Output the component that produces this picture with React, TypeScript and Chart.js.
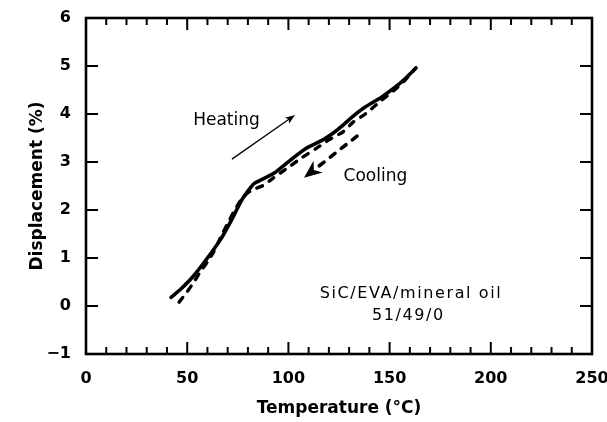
import React, { useEffect, useRef } from "react";
import { Chart, registerables } from "chart.js";

Chart.register(...registerables);

// ---- data ----
const heatingTemp = [42, 47, 53, 60, 67, 72, 77, 81, 83, 88, 93, 101, 109, 117, 122, 126, 131, 137, 142, 146, 154, 158, 163];
const heatingDisp = [0.18, 0.36, 0.62, 1.0, 1.42, 1.8, 2.21, 2.45, 2.55, 2.66, 2.77, 3.04, 3.29, 3.46, 3.6, 3.73, 3.92, 4.12, 4.25, 4.35, 4.6, 4.75, 4.96];

const coolingTemp = [46, 50, 53, 56, 60, 63, 67, 70, 73, 77, 80, 84, 88, 92, 97, 101, 107, 114, 120, 127, 132, 138, 145, 153, 158, 163];
const coolingDisp = [0.08, 0.3, 0.48, 0.68, 0.92, 1.12, 1.47, 1.72, 1.96, 2.24, 2.36, 2.45, 2.52, 2.65, 2.8, 2.92, 3.1, 3.29, 3.46, 3.63, 3.83, 4.0, 4.25, 4.52, 4.72, 4.96];

const xTickValues = [0, 50, 100, 150, 200, 250];
const yTickValues = [-1, 0, 1, 2, 3, 4, 5, 6];
const xMinorStep = 10;

const xTitle = "Temperature (\u00B0C)";
const yTitle = "Displacement (%)";

const heatingLabel = "Heating";
const coolingLabel = "Cooling";
const sampleLine1 = "SiC/EVA/mineral oil";
const sampleLine2 = "51/49/0";

// annotation anchors in data units [T, D]
const heatingLabelAt = [69.4, 3.86];
const coolingLabelAt = [143, 2.7];
const sample1At = [160.6, 0.25];
const sample2At = [159.3, -0.21];
const heatingArrowFrom = [72.1, 3.06];
const heatingArrowTo = [103.3, 3.98];
const coolingArrowFrom = [133.9, 3.54];
const coolingArrowTo = [107.7, 2.67];

const FONT = '"DejaVu Sans", sans-serif';

function toPoints(xs: number[], ys: number[]) {
  return xs.map((x, i) => ({ x, y: ys[i] }));
}

const decorPlugin = {
  id: "decor",
  afterDraw(chart: any) {
    const { ctx, chartArea: a, scales } = chart;
    const xs = scales.x;
    const ys = scales.y;
    const px = (v: number) => xs.getPixelForValue(v);
    const py = (v: number) => ys.getPixelForValue(v);
    ctx.save();
    ctx.strokeStyle = "#000";
    ctx.fillStyle = "#000";
    ctx.lineCap = "butt";

    const line = (x1: number, y1: number, x2: number, y2: number) => {
      ctx.beginPath();
      ctx.moveTo(x1, y1);
      ctx.lineTo(x2, y2);
      ctx.stroke();
    };

    // minor x ticks (top & bottom)
    ctx.lineWidth = 2;
    const xMin = xTickValues[0];
    const xMax = xTickValues[xTickValues.length - 1];
    for (let v = xMin; v <= xMax + 1e-9; v += xMinorStep) {
      const major = xTickValues.includes(v);
      const len = major ? 12 : 7;
      const p = px(v);
      line(p, a.bottom, p, a.bottom - len);
      line(p, a.top, p, a.top + len);
    }
    // y ticks (left & right)
    for (const v of yTickValues) {
      const p = py(v);
      line(a.left, p, a.left + 12, p);
      line(a.right, p, a.right - 12, p);
    }
    // frame
    ctx.lineWidth = 2.6;
    ctx.strokeRect(a.left, a.top, a.right - a.left, a.bottom - a.top);

    // heating arrow (thin solid)
    {
      const x1 = px(heatingArrowFrom[0]), y1 = py(heatingArrowFrom[1]);
      const x2 = px(heatingArrowTo[0]), y2 = py(heatingArrowTo[1]);
      const ang = Math.atan2(y2 - y1, x2 - x1);
      const hl = 10, hw = 3.6;
      ctx.lineWidth = 1.3;
      line(x1, y1, x2 - Math.cos(ang) * hl * 0.7, y2 - Math.sin(ang) * hl * 0.7);
      ctx.beginPath();
      ctx.moveTo(x2, y2);
      ctx.lineTo(x2 - Math.cos(ang) * hl - Math.sin(ang) * hw, y2 - Math.sin(ang) * hl + Math.cos(ang) * hw);
      ctx.lineTo(x2 - Math.cos(ang) * hl * 0.75, y2 - Math.sin(ang) * hl * 0.75);
      ctx.lineTo(x2 - Math.cos(ang) * hl + Math.sin(ang) * hw, y2 - Math.sin(ang) * hl - Math.cos(ang) * hw);
      ctx.closePath();
      ctx.fill();
    }
    // cooling arrow (thick dashed)
    {
      const x1 = px(coolingArrowFrom[0]), y1 = py(coolingArrowFrom[1]);
      const x2 = px(coolingArrowTo[0]), y2 = py(coolingArrowTo[1]);
      const ang = Math.atan2(y2 - y1, x2 - x1);
      const hl = 18, hw = 7.5;
      ctx.lineWidth = 3.6;
      ctx.lineCap = "round";
      ctx.setLineDash([6, 8]);
      line(x1, y1, x2 - Math.cos(ang) * hl * 0.8, y2 - Math.sin(ang) * hl * 0.8);
      ctx.setLineDash([]);
      ctx.lineCap = "butt";
      ctx.beginPath();
      ctx.moveTo(x2, y2);
      ctx.lineTo(x2 - Math.cos(ang) * hl - Math.sin(ang) * hw, y2 - Math.sin(ang) * hl + Math.cos(ang) * hw);
      ctx.lineTo(x2 - Math.cos(ang) * hl * 0.7, y2 - Math.sin(ang) * hl * 0.7);
      ctx.lineTo(x2 - Math.cos(ang) * hl + Math.sin(ang) * hw, y2 - Math.sin(ang) * hl - Math.cos(ang) * hw);
      ctx.closePath();
      ctx.fill();
    }

    // texts
    ctx.textAlign = "center";
    ctx.textBaseline = "middle";
    ctx.font = `17px ${FONT}`;
    ctx.fillText(heatingLabel, px(heatingLabelAt[0]), py(heatingLabelAt[1]));
    ctx.fillText(coolingLabel, px(coolingLabelAt[0]), py(coolingLabelAt[1]));
    ctx.font = `16px ${FONT}`;
    try { (ctx as any).letterSpacing = "1.6px"; } catch (e) {}
    ctx.fillText(sampleLine1, px(sample1At[0]), py(sample1At[1]));
    ctx.fillText(sampleLine2, px(sample2At[0]), py(sample2At[1]));
    try { (ctx as any).letterSpacing = "0px"; } catch (e) {}
    ctx.restore();
  },
};

export default function App() {
  const ref = useRef<HTMLCanvasElement | null>(null);

  useEffect(() => {
    if (!ref.current) return;
    const chart = new Chart(ref.current, {
      type: "scatter",
      data: {
        datasets: [
          {
            label: heatingLabel,
            data: toPoints(heatingTemp, heatingDisp),
            showLine: true,
            borderColor: "#000",
            backgroundColor: "#000",
            borderWidth: 3.6,
            pointRadius: 0,
            tension: 0.2,
            borderCapStyle: "round",
            borderJoinStyle: "round",
          },
          {
            label: coolingLabel,
            data: toPoints(coolingTemp, coolingDisp),
            showLine: true,
            borderColor: "#000",
            backgroundColor: "#000",
            borderWidth: 3.4,
            borderDash: [6, 8],
            borderCapStyle: "round",
            pointRadius: 0,
            tension: 0.2,
          },
        ],
      },
      options: {
        responsive: false,
        animation: false,
        devicePixelRatio: 1,
        layout: { padding: { top: 18, right: 15, left: 0, bottom: 0 } },
        plugins: {
          legend: { display: false },
          tooltip: { enabled: false },
        },
        scales: {
          x: {
            type: "linear",
            min: 0,
            max: 250,
            afterBuildTicks: (s: any) => {
              s.ticks = xTickValues.map((v) => ({ value: v }));
            },
            ticks: {
              color: "#000",
              font: { family: FONT, size: 16, weight: "bold" },
              padding: 15,
              maxRotation: 0,
            },
            grid: { display: false, drawTicks: false },
            border: { display: false },
            title: {
              display: true,
              text: xTitle,
              color: "#000",
              font: { family: FONT, size: 17, weight: "bold" },
              padding: { top: 0, bottom: 3 },
            },
            afterFit: (s: any) => {
              s.height = 68;
              s.paddingLeft = 0;
              s.paddingRight = 0;
            },
          },
          y: {
            type: "linear",
            min: -1,
            max: 6,
            afterBuildTicks: (s: any) => {
              s.ticks = yTickValues.map((v) => ({ value: v }));
            },
            ticks: {
              color: "#000",
              font: { family: FONT, size: 16, weight: "bold" },
              padding: 15,
              callback: (v: any) => (Number(v) < 0 ? "\u2212" + Math.abs(Number(v)) : String(v)),
            },
            grid: { display: false, drawTicks: false },
            border: { display: false },
            title: {
              display: true,
              text: yTitle,
              color: "#000",
              font: { family: FONT, size: 17, weight: "bold" },
              padding: { top: 27, bottom: 0 },
            },
            afterFit: (s: any) => {
              s.width = 86;
              s.paddingTop = 0;
              s.paddingBottom = 0;
            },
          },
        },
      },
      plugins: [decorPlugin],
    });
    return () => chart.destroy();
  }, []);

  return (
    <div style={{ position: "fixed", left: 0, top: 0, width: 607, height: 422, background: "#fff" }}>
      <canvas ref={ref} width={607} height={422} style={{ display: "block", width: 607, height: 422 }} />
    </div>
  );
}
